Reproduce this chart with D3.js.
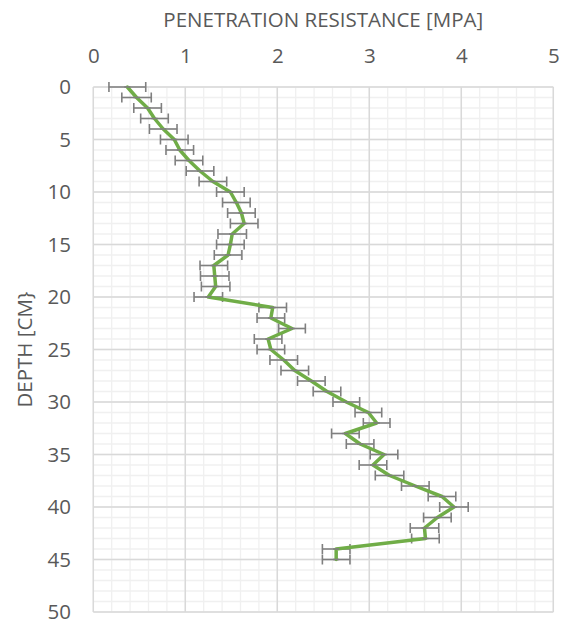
<!DOCTYPE html>
<html>
<head>
<meta charset="utf-8">
<script src="https://cdn.jsdelivr.net/npm/d3@7"></script>
<style>
  html, body { margin: 0; padding: 0; background: #ffffff; }
  svg { display: block; font-family: "Open Sans", "Liberation Sans", sans-serif; }
</style>
</head>
<body>
<svg id="chart" width="573" height="628"></svg>
<script>
// Penetration resistance profile: depth in cm, resistance in MPa
const depths = [0,1,2,3,4,5,6,7,8,9,10,11,12,13,14,15,16,17,18,19,20,21,22,23,24,25,26,27,28,29,30,31,32,33,34,35,36,37,38,39,40,41,42,43,44,45];
const resistance = [0.37,0.47,0.59,0.665,0.76,0.88,0.94,1.04,1.16,1.30,1.49,1.555,1.61,1.64,1.51,1.49,1.465,1.31,1.32,1.33,1.25,1.95,1.93,2.16,1.90,1.93,2.07,2.19,2.37,2.54,2.75,2.99,3.08,2.74,2.90,3.16,3.04,3.22,3.50,3.79,3.92,3.74,3.60,3.61,2.64,2.64];
const errorMPa = [0.20,0.16,0.15,0.15,0.15,0.15,0.15,0.15,0.15,0.15,0.15,0.15,0.15,0.15,0.155,0.15,0.15,0.15,0.155,0.155,0.155,0.15,0.15,0.145,0.15,0.15,0.15,0.15,0.15,0.15,0.145,0.145,0.145,0.15,0.15,0.15,0.15,0.155,0.15,0.15,0.155,0.15,0.155,0.15,0.15,0.15];
const xTicks = [0,1,2,3,4,5];
const yTicks = [0,5,10,15,20,25,30,35,40,45,50];
const xTitle = "PENETRATION RESISTANCE [MPA]";
const yTitle = "DEPTH [CM}";

const rows = depths.map((d, i) => ({ depth: d, value: resistance[i], err: errorMPa[i] }));

const svg = d3.select("#chart");
const width = 573, height = 628;
const margin = { left: 93.3, right: width - 553.3, top: 87, bottom: height - 612 };
const textColor = "#595959";
const fontSize = 20.5;

const x = d3.scaleLinear().domain([0, 5]).range([margin.left, width - margin.right]);
const y = d3.scaleLinear().domain([0, 50]).range([margin.top, height - margin.bottom]);

// minor grid
const g = svg.append("g");
g.selectAll("line.xminor").data(d3.range(0, 5.0001, 0.2))
  .join("line")
  .attr("x1", d => x(d)).attr("x2", d => x(d))
  .attr("y1", y(0)).attr("y2", y(50))
  .attr("stroke", "#f0f0f0").attr("stroke-width", 1.3);
g.selectAll("line.yminor").data(d3.range(0, 51, 1))
  .join("line")
  .attr("y1", d => y(d)).attr("y2", d => y(d))
  .attr("x1", x(0)).attr("x2", x(5))
  .attr("stroke", "#f0f0f0").attr("stroke-width", 1.3);

// major grid
g.selectAll("line.xmajor").data(xTicks)
  .join("line")
  .attr("x1", d => x(d)).attr("x2", d => x(d))
  .attr("y1", y(0)).attr("y2", y(50))
  .attr("stroke", "#d9d9d9").attr("stroke-width", 1.5);
g.selectAll("line.ymajor").data(yTicks)
  .join("line")
  .attr("y1", d => y(d)).attr("y2", d => y(d))
  .attr("x1", x(0)).attr("x2", x(5))
  .attr("stroke", "#d9d9d9").attr("stroke-width", 1.5);

// axes (labels only)
const xAxis = d3.axisTop(x).tickValues(xTicks).tickFormat(d3.format("d")).tickSize(0).tickPadding(0);
const xa = svg.append("g").attr("transform", "translate(0,62.7)").call(xAxis);
xa.select(".domain").remove();
xa.selectAll("text").attr("fill", textColor).attr("font-size", fontSize).attr("dy", 0)
  .attr("font-family", "'Open Sans', sans-serif");

const yAxis = d3.axisLeft(y).tickValues(yTicks).tickFormat(d3.format("d")).tickSize(0).tickPadding(0);
const ya = svg.append("g").attr("transform", "translate(71,0)").call(yAxis);
ya.select(".domain").remove();
ya.selectAll("text").attr("fill", textColor).attr("font-size", fontSize)
  .attr("font-family", "'Open Sans', sans-serif");

// axis titles
svg.append("text")
  .attr("x", (x(0) + x(5)) / 2).attr("y", 27.3)
  .attr("text-anchor", "middle")
  .attr("fill", textColor).attr("font-size", fontSize)
  .text(xTitle);
svg.append("text")
  .attr("transform", `translate(32,${(y(0) + y(50)) / 2}) rotate(-90)`)
  .attr("text-anchor", "middle")
  .attr("fill", textColor).attr("font-size", fontSize)
  .text(yTitle);

// error bars
const eb = svg.append("g").attr("stroke", "#7f7f7f").attr("stroke-width", 1.6).attr("fill", "none");
rows.forEach(r => {
  const x0 = x(r.value - r.err), x1 = x(r.value + r.err), yy = y(r.depth);
  eb.append("line").attr("x1", x0).attr("x2", x1).attr("y1", yy).attr("y2", yy);
  eb.append("line").attr("x1", x0).attr("x2", x0).attr("y1", yy - 5).attr("y2", yy + 5);
  eb.append("line").attr("x1", x1).attr("x2", x1).attr("y1", yy - 5).attr("y2", yy + 5);
});

// profile line
const line = d3.line().x(d => x(d.value)).y(d => y(d.depth));
svg.append("path")
  .datum(rows)
  .attr("d", line)
  .attr("fill", "none")
  .attr("stroke", "#70ad47")
  .attr("stroke-width", 3.5)
  .attr("stroke-linejoin", "round")
  .attr("stroke-linecap", "round");

// small markers where the bars cross the line
svg.append("g").selectAll("line")
  .data(rows).join("line")
  .attr("x1", d => x(d.value) - 3).attr("x2", d => x(d.value) + 3)
  .attr("y1", d => y(d.depth)).attr("y2", d => y(d.depth))
  .attr("stroke", "#7f7f7f").attr("stroke-width", 1.6);
</script>
</body>
</html>
